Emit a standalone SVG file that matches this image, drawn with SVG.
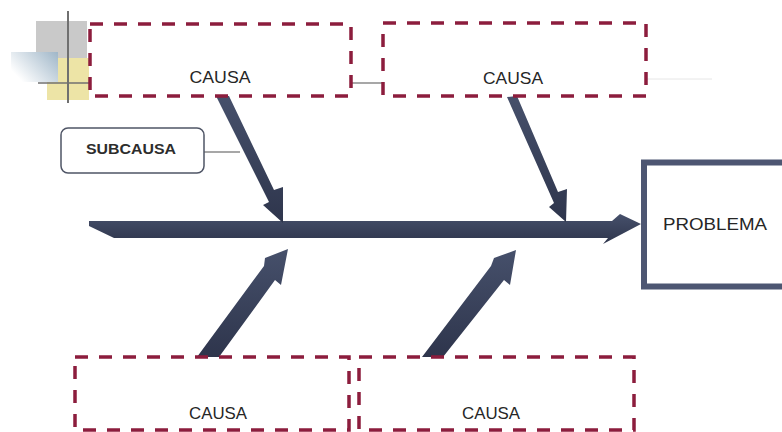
<svg xmlns="http://www.w3.org/2000/svg" width="782" height="432" viewBox="0 0 782 432">
<style>
.causa{fill:#ffffff;stroke:#8c1d3d;stroke-width:3.5;stroke-dasharray:13 11}
.lbl{font-family:"Liberation Sans",Arial,sans-serif;font-size:17px;fill:#262626;text-anchor:middle}
.arrow{fill:url(#ag)}
.thin{stroke:#8a8a8a;stroke-width:1.5;fill:none}
</style>
<defs>
<linearGradient id="ag" x1="0" y1="0" x2="0" y2="1">
<stop offset="0" stop-color="#46506b"/>
<stop offset="1" stop-color="#2e354c"/>
</linearGradient>
<linearGradient id="blue" x1="1" y1="0" x2="0" y2="0.6">
<stop offset="0" stop-color="#9fb6c8"/>
<stop offset="1" stop-color="#ffffff"/>
</linearGradient>
</defs>
<g id="decoration">
<rect x="36" y="21" width="51" height="37" fill="#c9c9c9"/>
<rect x="47" y="58" width="42" height="42" fill="#ede4a6"/>
<rect x="11" y="52" width="47" height="30" fill="url(#blue)"/>
<line x1="68" y1="11" x2="68" y2="103" stroke="#707070" stroke-width="2"/>
<line x1="38" y1="83" x2="90" y2="83" stroke="#707070" stroke-width="1.5"/>
</g>
<g id="connectors">
<line class="thin" x1="351" y1="83" x2="383" y2="83"/>
<line x1="646" y1="79" x2="712" y2="79" stroke="#e6e6e6" stroke-width="1"/>
<line class="thin" x1="204" y1="152" x2="240" y2="152" stroke="#777"/>
<polygon class="arrow" points="89,221 612,221 620,214 641,224 603,244 608,238 114,238 89,226"/>
<polygon class="arrow" points="216,96 229,96 274,190 283,187 283,223 263,205 269,202"/>
<polygon class="arrow" points="507,97 517,96 558,192 567,189 566,222 549,207 554,203"/>
<polygon class="arrow" points="197,357 264,266 265,258 288,249 281,285 275,280 219,357"/>
<polygon class="arrow" points="422,357 491,266 494,258 516,250 510,285 504,280 443,357"/>
</g>
<g id="causa1">
<rect class="causa" x="90" y="24" width="261" height="72"/>
<text class="lbl" x="220" y="83" textLength="61" lengthAdjust="spacingAndGlyphs">CAUSA</text>
</g>
<g id="causa2">
<rect class="causa" x="383" y="23" width="263" height="73"/>
<text class="lbl" x="513" y="84" textLength="60" lengthAdjust="spacingAndGlyphs">CAUSA</text>
</g>
<g id="causa3">
<rect class="causa" x="75" y="357" width="274" height="73"/>
<text class="lbl" x="218" y="419" textLength="58" lengthAdjust="spacingAndGlyphs">CAUSA</text>
</g>
<g id="causa4">
<rect class="causa" x="359" y="357" width="275" height="73"/>
<text class="lbl" x="491" y="419" textLength="58" lengthAdjust="spacingAndGlyphs">CAUSA</text>
</g>
<g id="subcausa">
<rect x="61" y="128" width="143" height="45" rx="7" fill="#ffffff" stroke="#4f5566" stroke-width="1.5"/>
<text x="131" y="154" font-family="'Liberation Sans',Arial,sans-serif" font-size="14" font-weight="bold" fill="#2d2d2d" text-anchor="middle" textLength="90" lengthAdjust="spacingAndGlyphs">SUBCAUSA</text>
</g>
<g id="problema">
<rect x="644" y="162.5" width="150" height="124" fill="#ffffff" stroke="#4d5672" stroke-width="6"/>
<text class="lbl" x="715" y="230" textLength="104" lengthAdjust="spacingAndGlyphs">PROBLEMA</text>
</g>
</svg>
